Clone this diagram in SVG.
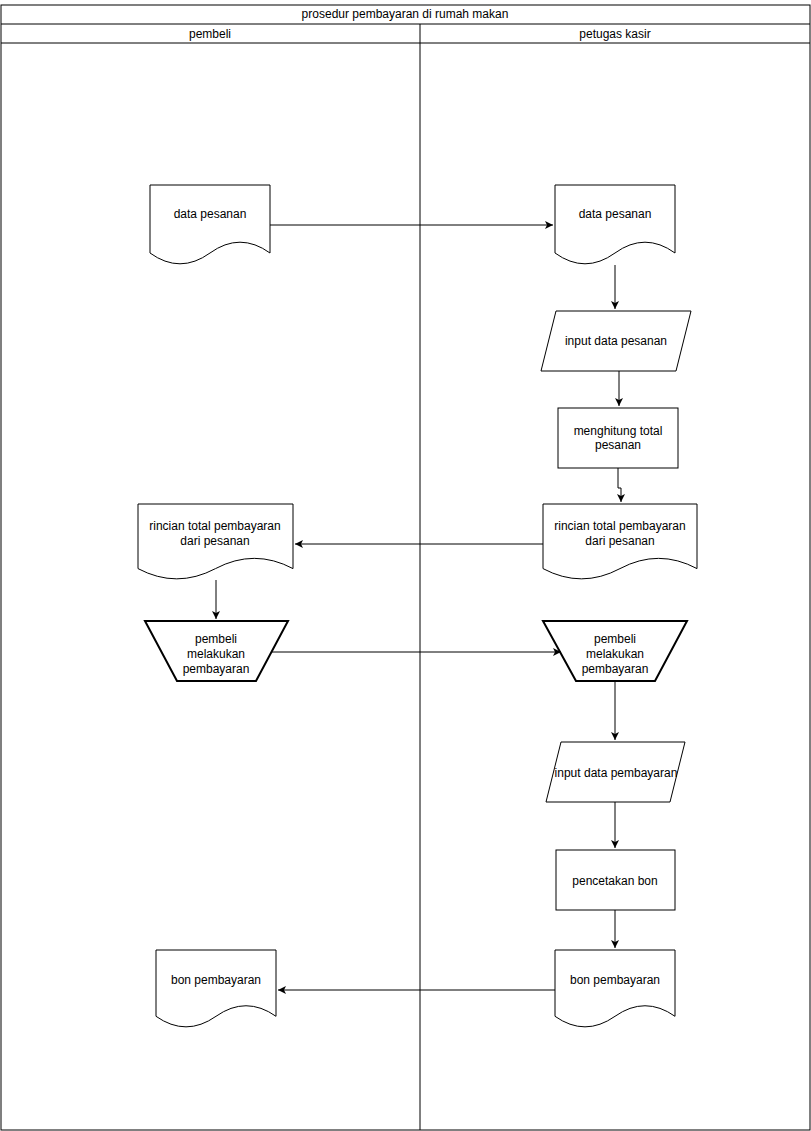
<svg xmlns="http://www.w3.org/2000/svg" width="811" height="1131" viewBox="0 0 811 1131">
<defs>
<style>
.s{fill:#fff;stroke:#000;stroke-width:1}
.t{fill:none;stroke:#000;stroke-width:2}
.c{fill:none;stroke:#000;stroke-width:1}
text{font-family:"Liberation Sans",Arial,sans-serif;font-size:12px;fill:#000;text-anchor:middle}
</style>
<marker id="a" markerWidth="10" markerHeight="10" refX="8" refY="5" orient="auto" markerUnits="userSpaceOnUse"><path d="M0,1 L8,5 L0,9 L2,5 Z" fill="#000"/></marker>
</defs>
<rect x="0" y="0" width="811" height="1131" fill="#fff"/>
<g id="lanes">
<rect class="s" x="1" y="5" width="809" height="1125"/>
<line class="c" x1="1" y1="24" x2="810" y2="24"/>
<line class="c" x1="1" y1="43" x2="810" y2="43"/>
<line class="c" x1="420" y1="24" x2="420" y2="1130"/>
<text x="405" y="18">prosedur pembayaran di rumah makan</text>
<text x="210" y="38">pembeli</text>
<text x="615" y="38">petugas kasir</text>
</g>
<g id="connectors" class="c">
<path class="c" d="M270,225 H553" marker-end="url(#a)"/>
<path class="c" d="M615,265 V309" marker-end="url(#a)"/>
<path class="c" d="M619,371 V406" marker-end="url(#a)"/>
<path class="c" d="M618,468 V488 H621 V502" marker-end="url(#a)"/>
<path class="c" d="M543,544 H295" marker-end="url(#a)"/>
<path class="c" d="M216,580 V619" marker-end="url(#a)"/>
<path class="c" d="M272,652 H561" marker-end="url(#a)"/>
<path class="c" d="M615,681 V740" marker-end="url(#a)"/>
<path class="c" d="M615,802 V848" marker-end="url(#a)"/>
<path class="c" d="M615,910 V948" marker-end="url(#a)"/>
<path class="c" d="M555,990 H278" marker-end="url(#a)"/>
</g>
<g id="doc1"><path class="s" d="M150,185 H270 V253 Q240,231.4 210,253 T150,253 Z"/><text x="210" y="218">data pesanan</text></g>
<g id="doc2"><path class="s" d="M555,185 H675 V253 Q645,231.4 615,253 T555,253 Z"/><text x="615" y="218">data pesanan</text></g>
<g id="input1"><path class="s" d="M556,311 H691 L676,371 H541 Z"/><text x="616" y="345">input data pesanan</text></g>
<g id="proc1"><rect class="s" x="558" y="408" width="120" height="60"/><text x="618" y="435">menghitung total</text><text x="618" y="449">pesanan</text></g>
<g id="doc3"><path class="s" d="M543,504 H697 V568.6 Q658.5,548.1 620,568.6 T543,568.6 Z"/><text x="620" y="530">rincian total pembayaran</text><text x="620" y="545">dari pesanan</text></g>
<g id="doc4"><path class="s" d="M138,504 H293 V568.6 Q254.3,548.1 215.5,568.6 T138,568.6 Z"/><text x="215" y="530">rincian total pembayaran</text><text x="215" y="545">dari pesanan</text></g>
<g id="man1"><path class="t" d="M145,621 H288 L256,681 H177 Z" fill="#fff"/><text x="216" y="643">pembeli</text><text x="216" y="658">melakukan</text><text x="216" y="673">pembayaran</text></g>
<g id="man2"><path class="t" d="M543,621 H687 L655,681 H576 Z" fill="#fff"/><text x="615" y="643">pembeli</text><text x="615" y="658">melakukan</text><text x="615" y="673">pembayaran</text></g>
<g id="input2"><path class="s" d="M561,742 H685 L670,802 H546 Z"/><text x="616" y="777">input data pembayaran</text></g>
<g id="proc2"><rect class="s" x="556" y="850" width="119" height="60"/><text x="615" y="885">pencetakan bon</text></g>
<g id="doc5"><path class="s" d="M555,950 H675 V1016.3 Q645,995.2 615,1016.3 T555,1016.3 Z"/><text x="615" y="984">bon pembayaran</text></g>
<g id="doc6"><path class="s" d="M156,950 H276 V1016.3 Q246,995.2 216,1016.3 T156,1016.3 Z"/><text x="216" y="984">bon pembayaran</text></g>
</svg>
